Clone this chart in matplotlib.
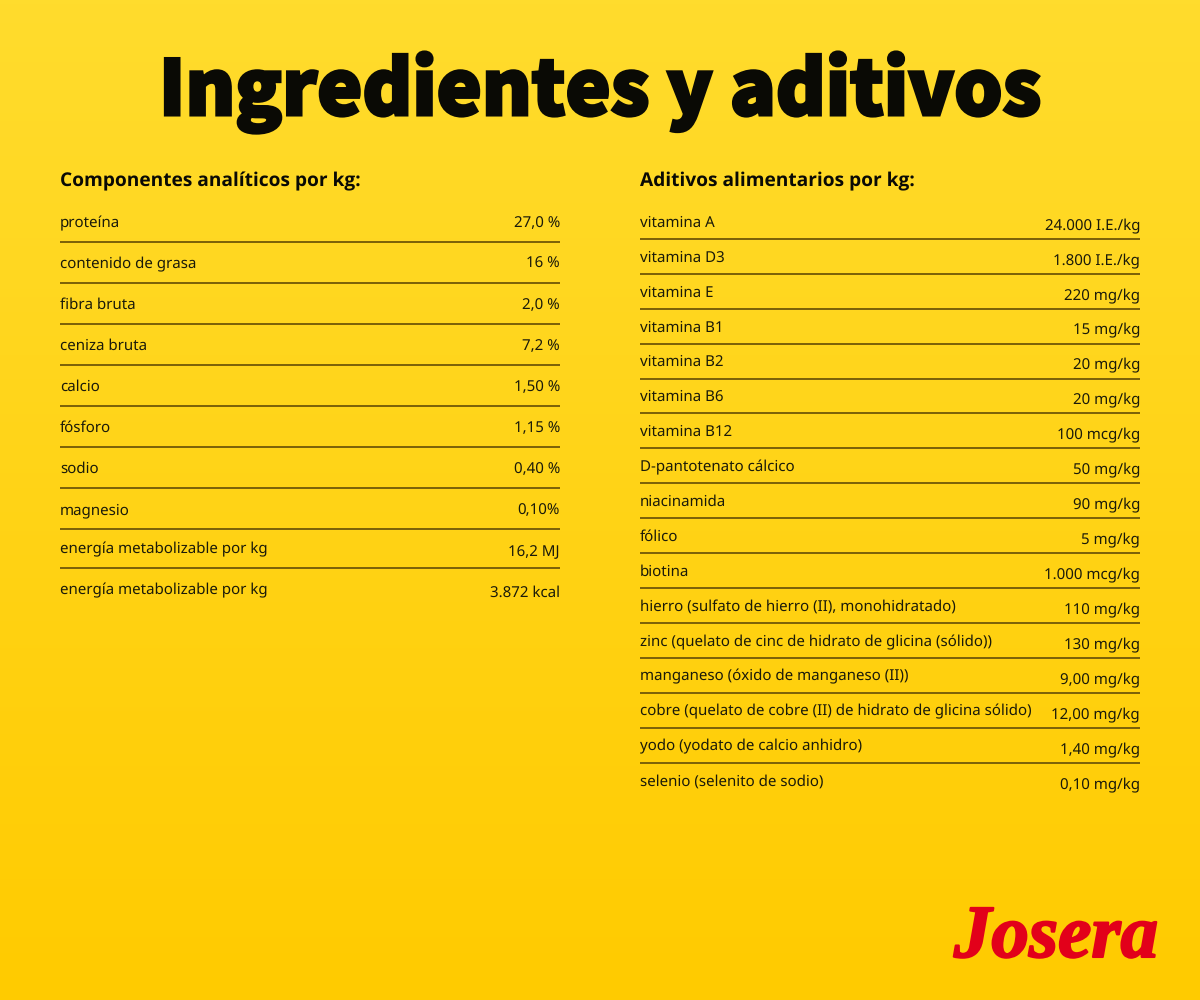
import matplotlib.pyplot as plt
import matplotlib.patheffects as pe
import numpy as np

plt.rcParams['font.family'] = ['Noto Sans', 'DejaVu Sans']
plt.rcParams['text.hinting'] = 'none'

title = "Ingredientes y aditivos"
left_title = "Componentes analíticos por kg:"
right_title = "Aditivos alimentarios por kg:"

left_names = ["proteína", "contenido de grasa", "fibra bruta", "ceniza bruta", "calcio", "fósforo",
              "sodio", "magnesio", "energía metabolizable por kg", "energía metabolizable por kg"]
left_values = ["27,0 %", "16 %", "2,0 %", "7,2 %", "1,50 %", "1,15 %", "0,40 %", "0,10%", "16,2 MJ", "3.872 kcal"]

right_names = ["vitamina A", "vitamina D3", "vitamina E", "vitamina B1", "vitamina B2", "vitamina B6",
               "vitamina B12", "D-pantotenato cálcico", "niacinamida", "fólico", "biotina",
               "hierro (sulfato de hierro (II), monohidratado)",
               "zinc (quelato de cinc de hidrato de glicina (sólido))",
               "manganeso (óxido de manganeso (II))",
               "cobre (quelato de cobre (II) de hidrato de glicina sólido)",
               "yodo (yodato de calcio anhidro)", "selenio (selenito de sodio)"]
right_values = ["24.000 I.E./kg", "1.800 I.E./kg", "220 mg/kg", "15 mg/kg", "20 mg/kg", "20 mg/kg",
                "100 mcg/kg", "50 mg/kg", "90 mg/kg", "5 mg/kg", "1.000 mcg/kg", "110 mg/kg",
                "130 mg/kg", "9,00 mg/kg", "12,00 mg/kg", "1,40 mg/kg", "0,10 mg/kg"]

left_rows = [227, 268, 309, 350, 391, 432, 473, 514, 553, 594]
left_rules = [242, 283, 324, 365, 406, 447, 488, 529, 568]
left_value_rows = [227, 268, 309, 350, 391, 432, 473, 514, 556, 597]
right_rows = [226.5 + 34.95 * i for i in range(17)]
right_rules = [238.7 + 34.95 * i for i in range(16)]
right_value_rows = [230 + 34.95 * i for i in range(17)]

fig = plt.figure(figsize=(12, 10), dpi=100)
ax = fig.add_axes([0, 0, 1, 1])
ax.set_xlim(0, 1200)
ax.set_ylim(1000, 0)
ax.axis('off')

# yellow background, a bit lighter at the top
grad = np.linspace(0, 1, 256).reshape(-1, 1)
top = np.array([255, 220, 45]) / 255
bottom = np.array([255, 203, 0]) / 255
img = top + (bottom - top) * grad[..., None]
ax.imshow(img, extent=[0, 1200, 1000, 0], aspect='auto', zorder=0)

ink = '#0a0a05'

# the CJK family ships real heavy weights, plain Noto Sans does not here
ax.text(600, 115, title, ha='center', va='baseline', fontsize=54.6, fontweight='black',
        family=['Noto Sans CJK JP', 'DejaVu Sans'], color=ink,
        path_effects=[pe.Stroke(linewidth=2.2, foreground=ink, joinstyle='miter'), pe.Normal()])
ax.text(60, 186, left_title, fontsize=13.8, fontweight='bold', family=['Open Sans', 'DejaVu Sans'], color=ink)
ax.text(640, 186, right_title, fontsize=13.8, fontweight='bold', family=['Open Sans', 'DejaVu Sans'], color=ink)


def draw_table(x0, x1, names, values, rows, value_rows, rules):
    for name, value, y, vy in zip(names, values, rows, value_rows):
        ax.text(x0, y, name, va='baseline', fontsize=10.85, color='#1a1a0a')
        ax.text(x1, vy, value, va='baseline', ha='right', fontsize=10.85, color='#1a1a0a')
    for y in rules:
        ax.plot([x0, x1], [y, y], color='#7a6008', linewidth=1.4, solid_capstyle='butt')


draw_table(60, 560, left_names, left_values, left_rows, left_value_rows, left_rules)
draw_table(640, 1140, right_names, right_values, right_rows, right_value_rows, right_rules)

# logo
ax.text(1056, 957, "Josera", ha='center', va='baseline', fontsize=54, fontweight='bold',
        style='italic', color='#e2001a', family=['Liberation Serif', 'DejaVu Serif'],
        path_effects=[pe.withStroke(linewidth=1.5, foreground='#e2001a')])

fig.savefig('out.png', dpi=100)
